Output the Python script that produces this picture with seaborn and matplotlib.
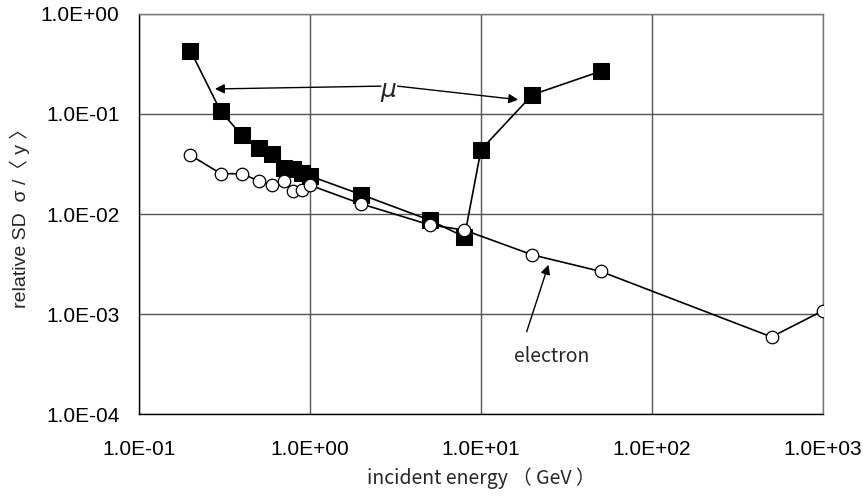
import matplotlib
matplotlib.use("Agg")
import matplotlib.pyplot as plt
import matplotlib.ticker as mticker
import seaborn as sns
import numpy as np

# data
muon_energy = [0.2, 0.3, 0.4, 0.5, 0.6, 0.7, 0.8, 0.9, 1.0, 2, 5, 8, 10, 20, 50]
muon_sd = [0.43, 0.107, 0.061, 0.046, 0.040, 0.029, 0.028, 0.026, 0.024, 0.0156, 0.0087, 0.0059, 0.044, 0.156, 0.267]
elec_energy = [0.2, 0.3, 0.4, 0.5, 0.6, 0.7, 0.8, 0.9, 1.0, 2, 5, 8, 20, 50, 500, 1000]
elec_sd = [0.0387, 0.0254, 0.0252, 0.0215, 0.0196, 0.0213, 0.0171, 0.0175, 0.0194, 0.0126, 0.0078, 0.0069, 0.0039, 0.00267, 0.00059, 0.00108]
x_ticks = [0.1, 1, 10, 100, 1000]
y_ticks = [1e-4, 1e-3, 1e-2, 1e-1, 1]

sns.set_style("white")
plt.rcParams['font.family'] = ['Liberation Sans', 'Noto Sans CJK JP', 'DejaVu Sans']

fig = plt.figure(figsize=(8.63, 5.0), dpi=100)
ax = fig.add_axes([139/863, 1-414/500, (823-139)/863, 400/500])

sns.lineplot(x=muon_energy, y=muon_sd, ax=ax, color='black', lw=1.2, marker='s',
             markersize=11.5, markerfacecolor='black', markeredgecolor='black',
             estimator=None, sort=False, zorder=3)
sns.lineplot(x=elec_energy, y=elec_sd, ax=ax, color='black', lw=1.2, marker='o',
             markersize=9, markerfacecolor='white', markeredgecolor='black', markeredgewidth=0.9,
             estimator=None, sort=False, zorder=4)

ax.set_xscale('log')
ax.set_yscale('log')
ax.set_xlim(0.1, 1000)
ax.set_ylim(1e-4, 1)
ax.set_xticks(x_ticks)
ax.set_yticks(y_ticks)
fmt = mticker.FuncFormatter(lambda v, p: f"{v:.1E}")
ax.xaxis.set_major_formatter(fmt)
ax.yaxis.set_major_formatter(fmt)
ax.xaxis.set_minor_locator(mticker.NullLocator())
ax.yaxis.set_minor_locator(mticker.NullLocator())
ax.tick_params(axis='both', length=0, labelsize=15, colors='black')
ax.tick_params(axis='x', pad=19)
ax.tick_params(axis='y', pad=14)
ax.grid(True, color='#555555', lw=1.0)
for s in ['top', 'right']:
    ax.spines[s].set_color('#777777')
    ax.spines[s].set_linewidth(1.0)
for s in ['left', 'bottom']:
    ax.spines[s].set_color('black')
    ax.spines[s].set_linewidth(1.0)

ax.set_xlabel("incident energy （ GeV ）", fontsize=14,
              family=['Noto Sans CJK JP', 'DejaVu Sans'], labelpad=6)
ax.set_ylabel("relative SD  σ /〈 y 〉", fontsize=14,
              family=['Liberation Sans', 'Noto Sans CJK JP', 'DejaVu Sans'], labelpad=8)

arrow = dict(arrowstyle='-|>', color='black', lw=1.0, mutation_scale=14, shrinkA=0, shrinkB=0)
ax.annotate("", xy=(0.278, 0.178), xytext=(2.6, 0.19), arrowprops=arrow)
ax.annotate("", xy=(16.5, 0.139), xytext=(3.25, 0.19), arrowprops=arrow)
ax.text(2.88, 0.175, "μ", fontsize=18, style='italic', ha='center', va='center',
        family=['DejaVu Sans'])
ax.annotate("", xy=(24.8, 0.00311), xytext=(18.5, 0.000665), arrowprops=arrow)
ax.text(25.9, 0.000375, "electron", fontsize=14, ha='center', va='center',
        family=['Noto Sans CJK JP', 'DejaVu Sans'])

fig.savefig("out.png", dpi=100)
